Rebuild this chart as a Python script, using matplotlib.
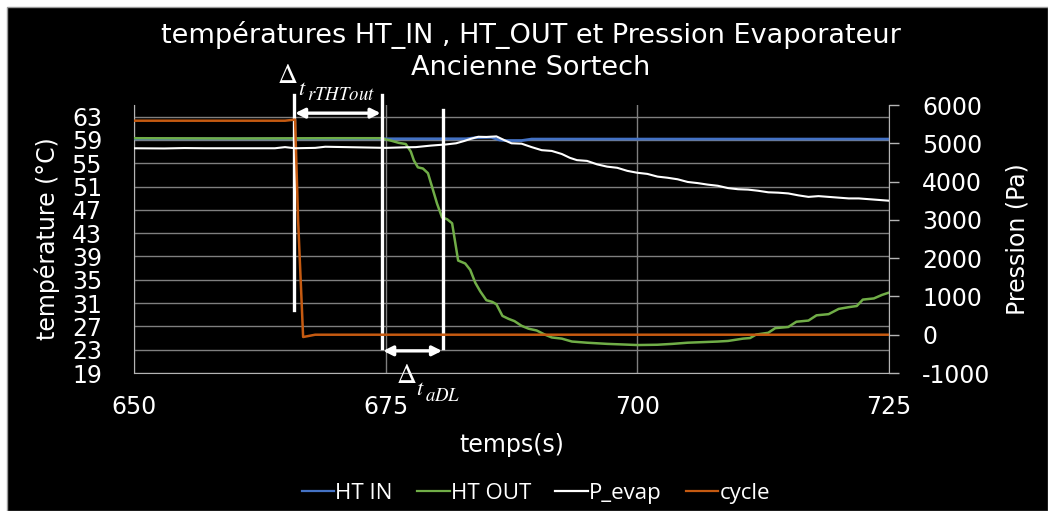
import matplotlib
matplotlib.use("Agg")
import matplotlib.pyplot as plt
from matplotlib.patches import Rectangle

# ---------------- data ----------------
ht_in_t = [650, 660, 670, 675, 683, 684, 685.5, 686.3, 687, 688.5, 689.5, 700, 725]
ht_in_v = [59.2, 59.2, 59.2, 59.2, 59.2, 59.4, 59.45, 59.0, 58.9, 58.9, 59.15, 59.15, 59.15]

ht_out_t = [650, 660, 670, 674.5, 675.5, 676.3, 677, 677.5, 677.8, 678.2, 678.7, 679.2,
            679.6, 680.1, 680.6, 681.1, 681.6, 682.2, 682.9, 683.4, 683.9, 684.4, 685.0,
            685.6, 686.0, 686.6, 687.2, 687.8, 688.5, 689.2, 690, 690.8, 691.5, 692.5,
            693.5, 695, 697, 700, 702, 703.5, 705, 706.5, 708, 709, 710.5, 711.2, 711.8,
            713, 713.7, 715, 715.8, 717, 717.8, 719, 720, 721, 721.8, 722.4, 723.5, 724.3, 725]
ht_out_v = [59.3, 59.25, 59.3, 59.3, 58.9, 58.5, 58.3, 57.0, 55.5, 54.3, 54.1, 53.3,
            51.0, 48.1, 45.7, 45.4, 44.7, 38.3, 37.8, 36.7, 34.5, 33.0, 31.5,
            31.2, 30.8, 28.8, 28.3, 27.9, 27.1, 26.6, 26.3, 25.6, 25.1, 24.9,
            24.4, 24.2, 24.0, 23.8, 23.85, 24.0, 24.2, 24.3, 24.4, 24.5, 24.9, 25.0, 25.6,
            25.9, 26.7, 26.9, 27.8, 28.0, 28.9, 29.1, 30.0, 30.3, 30.5, 31.6, 31.8, 32.4, 32.8]

p_evap_t = [650, 653, 655, 657, 664, 665, 666, 668, 669, 671, 673, 675, 677, 678, 679.5,
            681, 682, 682.8, 683.5, 684.2, 685, 686, 686.8, 687.5, 688.5, 689.5, 690.5,
            691.5, 692.5, 693.3, 694, 695, 696, 697, 698, 699, 700, 701, 702, 703, 704,
            705, 706, 707, 708, 709, 710, 711, 712, 713, 714, 715, 716, 717, 718, 719,
            720, 721, 722, 723, 724, 725]
p_evap_v = [4870, 4865, 4875, 4870, 4870, 4900, 4870, 4880, 4910, 4900, 4890, 4880, 4895,
            4900, 4940, 4970, 5000, 5060, 5120, 5170, 5165, 5180, 5080, 5000, 4990, 4900,
            4820, 4800, 4720, 4620, 4560, 4540, 4450, 4390, 4360, 4280, 4230, 4200, 4130,
            4100, 4060, 3990, 3960, 3920, 3890, 3830, 3800, 3790, 3760, 3720, 3710, 3690,
            3640, 3600, 3620, 3600, 3580, 3560, 3560, 3540, 3520, 3500]

cycle_t = [650, 665, 665.7, 666.0, 666.3, 666.8, 667.2, 668, 725]
cycle_v = [5590, 5590, 5610, 5620, 3000, -60, -40, 0, 0]

x_ticks = [650, 675, 700, 725]
y_left_ticks = [19, 23, 27, 31, 35, 39, 43, 47, 51, 55, 59, 63]
y_right_ticks = [-1000, 0, 1000, 2000, 3000, 4000, 5000, 6000]

# annotation markers (times in s)
t_lines = [665.9, 674.6, 680.7]

# ---------------- figure ----------------
plt.rcParams["mathtext.fontset"] = "stix"
plt.rcParams["axes.unicode_minus"] = False
W, H = 1048, 511
fig = plt.figure(figsize=(W / 100, H / 100), dpi=100)
fig.patch.set_facecolor("white")
bg = Rectangle((7 / W, 0), 1 - 7 / W, (H - 7) / H, transform=fig.transFigure,
               facecolor="black", edgecolor="#9a9a9a", lw=1, zorder=-10)
fig.patches.append(bg)

ax = fig.add_axes([134 / W, 1 - 373 / H, (889 - 134) / W, (373 - 105) / H])
ax.set_facecolor("none")
ax2 = ax.twinx()
ax2.set_facecolor("none")

C_BLUE = "#4472C4"
C_GREEN = "#70AD47"
C_WHITE = "#FFFFFF"
C_ORANGE = "#C55A11"

l1, = ax.plot(ht_in_t, ht_in_v, color=C_BLUE, lw=2.0, label="HT IN", zorder=3)
l2, = ax.plot(ht_out_t, ht_out_v, color=C_GREEN, lw=1.8, label="HT OUT", zorder=4)
l3, = ax2.plot(p_evap_t, p_evap_v, color=C_WHITE, lw=1.5, label="P_evap", zorder=3)
l4, = ax2.plot(cycle_t, cycle_v, color=C_ORANGE, lw=1.8, label="cycle", zorder=2)

ax.set_xlim(650, 725)
ax.set_ylim(19, 65)
ax2.set_ylim(-1000, 6000)
ax.set_xticks(x_ticks)
ax.set_yticks(y_left_ticks)
ax2.set_yticks(y_right_ticks)

grid_c = "#7f7f7f"
ax.grid(True, axis="both", color=grid_c, lw=1.0)
ax.set_axisbelow(True)

spine_c = "#b4b4b4"
for a in (ax, ax2):
    for s in a.spines.values():
        s.set_visible(False)
ax.spines["left"].set_visible(True)
ax.spines["left"].set_color(spine_c)
ax.spines["bottom"].set_visible(True)
ax.spines["bottom"].set_color(spine_c)
ax2.spines["right"].set_visible(True)
ax2.spines["right"].set_color(spine_c)

fs_tick = 17
ax.tick_params(axis="y", length=0, pad=23, labelsize=fs_tick, labelcolor="white")
ax.tick_params(axis="x", length=0, pad=16, labelsize=fs_tick, labelcolor="white")
ax2.tick_params(axis="y", length=7, width=1, color=spine_c, pad=17, labelsize=fs_tick,
                labelcolor="white")

ax.set_xlabel("temps(s)", color="white", fontsize=17, labelpad=10)
ax.set_ylabel("température (°C)", color="white", fontsize=17, labelpad=8)
ax2.set_ylabel("Pression (Pa)", color="white", fontsize=17, labelpad=11)

fig.text(531 / W, 1 - 35 / H, "températures HT_IN , HT_OUT et Pression Evaporateur",
         color="white", fontsize=19.5, ha="center", va="center")
fig.text(531 / W, 1 - 68 / H, "Ancienne Sortech", color="white", fontsize=19.5,
         ha="center", va="center")

# ---------------- annotations ----------------
ax.plot([t_lines[0]] * 2, [66.7, 29.8], color="white", lw=2.4, clip_on=False, zorder=6)
ax.plot([t_lines[1]] * 2, [66.7, 23.3], color="white", lw=2.4, clip_on=False, zorder=6)
ax.plot([t_lines[2]] * 2, [64.1, 23.3], color="white", lw=2.4, clip_on=False, zorder=6)
arrow_kw = dict(arrowstyle="<|-|>", color="white", lw=2.4, mutation_scale=14,
                shrinkA=0, shrinkB=0)
ax.annotate("", xy=(t_lines[1] - 0.1, 63.6), xytext=(t_lines[0] + 0.1, 63.6),
            arrowprops=arrow_kw, annotation_clip=False, zorder=6)
ax.annotate("", xy=(t_lines[2] - 0.1, 22.8), xytext=(t_lines[1] + 0.15, 22.8),
            arrowprops=arrow_kw, annotation_clip=False, zorder=6)


def delta_label(x, y, sub):
    d = ax.text(x, y, r"$\Delta$", color="white", fontsize=20, ha="left",
                va="baseline", clip_on=False)
    t = ax.annotate(r"$t$", xy=(1, 0), xycoords=d, xytext=(0, -4.5),
                    textcoords="offset points", color="white", fontsize=16,
                    ha="left", va="baseline", annotation_clip=False)
    ax.annotate("$" + sub + "$", xy=(1, 0), xycoords=t, xytext=(0.2, -1.0),
                textcoords="offset points", color="white", fontsize=13.5,
                ha="left", va="baseline", annotation_clip=False)


delta_label(664.2, 68.8, "rTHTout")
delta_label(676.0, 17.3, "aDL")

leg = fig.legend(handles=[l1, l2, l3, l4], loc="center", bbox_to_anchor=(536 / W, 1 - 493 / H),
                 ncol=4, frameon=False, handlelength=1.45, handletextpad=0.05,
                 columnspacing=1.1, prop={"family": "Open Sans", "size": 16})
for t in leg.get_texts():
    t.set_color("white")
for h in leg.get_lines():
    h.set_linewidth(1.6)

fig.savefig("out.png", dpi=100, facecolor=fig.get_facecolor())
